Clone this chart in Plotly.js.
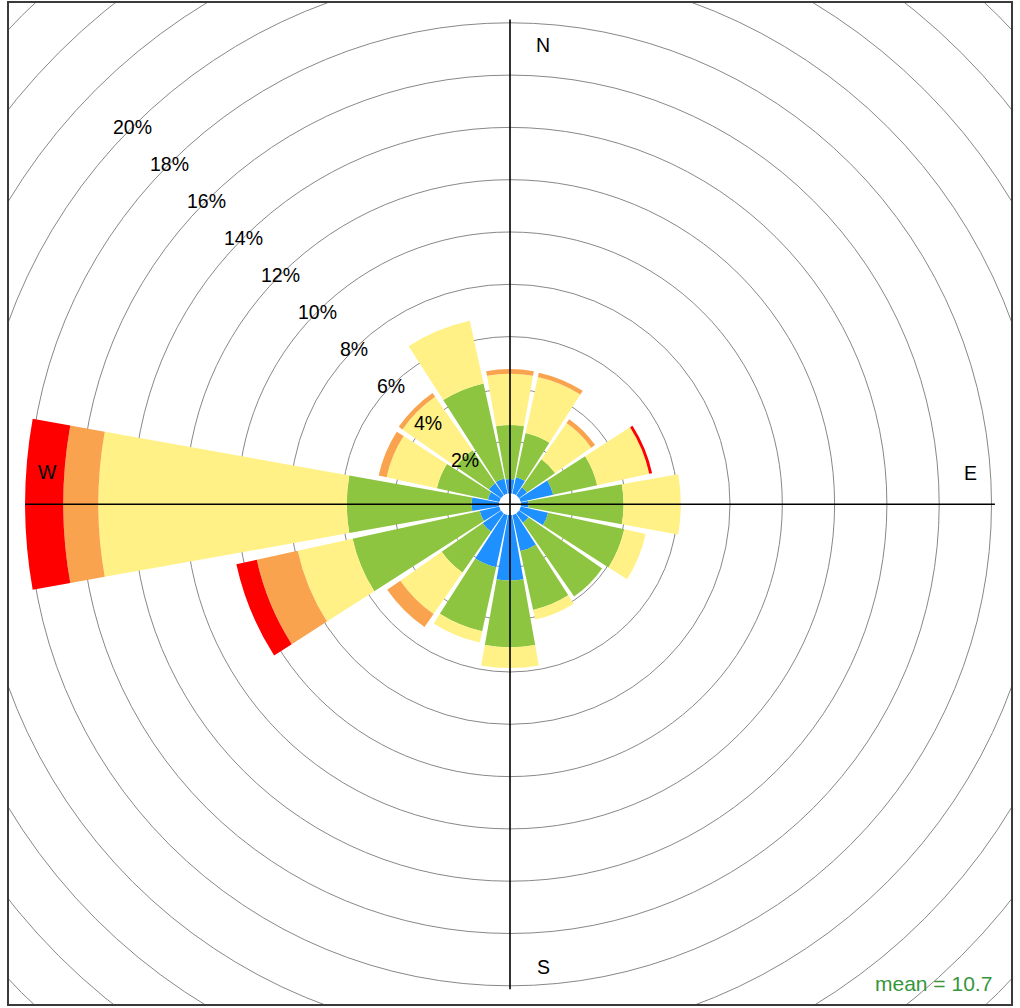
<!DOCTYPE html>
<html>
<head>
<meta charset="utf-8">
<script src="https://cdn.plot.ly/plotly-3.0.1.min.js"></script>
<style>html,body{margin:0;padding:0;background:#fff;}</style>
</head>
<body>
<div id="chart" style="width:1020px;height:1008px;"></div>
<script>
// ---- data (percent of time, per wind-speed bin, per direction) ----
const directions = ['N','NNE','NE','ENE','E','ESE','SE','SSE','S','SSW','SW','WSW','W','WNW','NW','NNW'];
const bin1 = [0.55,0.65,0.38,1.28,0.30,1.08,0.45,1.42,2.50,2.05,0.86,0.77,1.05,0.45,0.57,0.60];
const bin2 = [2.07,1.73,1.31,1.72,3.63,2.98,3.43,2.30,2.55,2.51,1.91,4.98,4.78,2.00,1.53,3.72];
const bin3 = [1.96,2.19,1.68,2.04,2.19,0.84,0.00,0.38,0.80,0.44,1.93,2.15,9.50,1.97,2.50,2.45];
const bin4 = [0.18,0.17,0.18,0.00,0.00,0.00,0.00,0.00,0.00,0.00,0.61,1.60,1.34,0.31,0.17,0.00];
const bin5 = [0.00,0.00,0.00,0.11,0.00,0.00,0.00,0.00,0.00,0.00,0.00,0.80,1.46,0.00,0.00,0.00];
const binNames = ['bin 1','bin 2','bin 3','bin 4','bin 5'];
const ringPercents = [2,4,6,8,10,12,14,16,18,20,22,24,26,28,30];
const ringLabels = ['2%','4%','6%','8%','10%','12%','14%','16%','18%','20%'];
const compassLabels = ['N','E','S','W'];
const meanText = 'mean = 10.7';

// ---- styles / geometry ----
const binColors = ['#1E90FF','#8DC540','#FFF185','#F9A34F','#FF0000'];
const FW = 1020, FH = 1008;
const CX = 510, CY = 504.3;       // centre of rose, px
const HOLE = 10.8;                // inner hole radius, px
const PXPCT = 26.15;              // px per percent
const RMAX = 18.6;                // radial axis max (percent)
const R = HOLE + PXPCT * RMAX;    // polar radius, px
const FRAME = {x0: 9, x1: 1011, y0: 3, y1: 1004};
const FONT = 'Liberation Sans, Arial, sans-serif';

const step = 360 / directions.length;
const theta = directions.map((d, i) => i * step);
const bins = [bin1, bin2, bin3, bin4, bin5];

const traces = bins.map((vals, k) => ({
  type: 'barpolar',
  name: binNames[k],
  r: vals,
  theta: theta,
  width: 20.3,
  marker: {color: binColors[k], line: {width: 0}},
  subplot: 'polar',
  hoverinfo: 'skip',
  showlegend: false
}));
// empty cartesian trace so the frame axes exist
traces.unshift({type: 'scatter', x: [], y: [], xaxis: 'x', yaxis: 'y',
  mode: 'markers', showlegend: false, hoverinfo: 'skip'});

const ringR = p => HOLE + PXPCT * p;
const totals = directions.map((d, i) => bins.reduce((s, b) => s + b[i], 0));
const axisLen = ringR(Math.max(...totals));

const shapes = ringPercents.map(p => ({
  type: 'circle', xref: 'x', yref: 'y', layer: 'below',
  x0: -ringR(p), x1: ringR(p), y0: -ringR(p), y1: ringR(p),
  line: {color: '#888888', width: 1}
}));
shapes.push({type: 'line', xref: 'x', yref: 'y', layer: 'above',
  x0: 0, x1: 0, y0: -axisLen, y1: axisLen, line: {color: '#000', width: 1.6}});
shapes.push({type: 'line', xref: 'x', yref: 'y', layer: 'above',
  x0: -axisLen, x1: axisLen, y0: 0, y1: 0, line: {color: '#000', width: 1.6}});

const annotations = [];
ringLabels.forEach((t, i) => {
  const rr = ringR(ringPercents[i]) / Math.SQRT2;
  annotations.push({xref: 'x', yref: 'y', x: -rr, y: rr, text: t, showarrow: false,
    xanchor: 'center', yanchor: 'middle', font: {family: FONT, size: 19.5, color: '#000'}});
});
const compassPos = [[33, 459.3], [460, 31.3], [33, -462.7], [-463, 32.3]];
compassLabels.forEach((t, i) => {
  annotations.push({xref: 'x', yref: 'y', x: compassPos[i][0], y: compassPos[i][1], text: t,
    showarrow: false, xanchor: 'center', yanchor: 'middle',
    font: {family: FONT, size: 19.5, color: '#000'}});
});
annotations.push({xref: 'x', yref: 'y', x: 484, y: -478.7, text: meanText, showarrow: false,
  xanchor: 'right', yanchor: 'middle', font: {family: FONT, size: 21, color: '#37963C'}});

const layout = {
  width: FW, height: FH,
  margin: {l: 0, r: 0, t: 0, b: 0, pad: 0},
  paper_bgcolor: '#fff', plot_bgcolor: '#fff',
  showlegend: false,
  xaxis: {domain: [FRAME.x0 / FW, FRAME.x1 / FW], range: [FRAME.x0 - CX, FRAME.x1 - CX],
    showgrid: false, zeroline: false, showticklabels: false, ticks: '',
    showline: true, mirror: true, linecolor: '#3a3a3a', linewidth: 1.6, fixedrange: true},
  yaxis: {domain: [1 - FRAME.y1 / FH, 1 - FRAME.y0 / FH], range: [CY - FRAME.y1, CY - FRAME.y0],
    showgrid: false, zeroline: false, showticklabels: false, ticks: '',
    showline: true, mirror: true, linecolor: '#3a3a3a', linewidth: 1.6, fixedrange: true},
  polar: {
    domain: {x: [(CX - R) / FW, (CX + R) / FW], y: [1 - (CY + R) / FH, 1 - (CY - R) / FH]},
    bgcolor: 'rgba(0,0,0,0)',
    hole: HOLE / R,
    barmode: 'stack',
    radialaxis: {range: [0, RMAX], visible: false, showgrid: false},
    angularaxis: {rotation: 90, direction: 'clockwise', visible: false, showgrid: false}
  },
  shapes: shapes,
  annotations: annotations
};

Plotly.newPlot('chart', traces, layout, {staticPlot: true, displayModeBar: false});
</script>
</body>
</html>
